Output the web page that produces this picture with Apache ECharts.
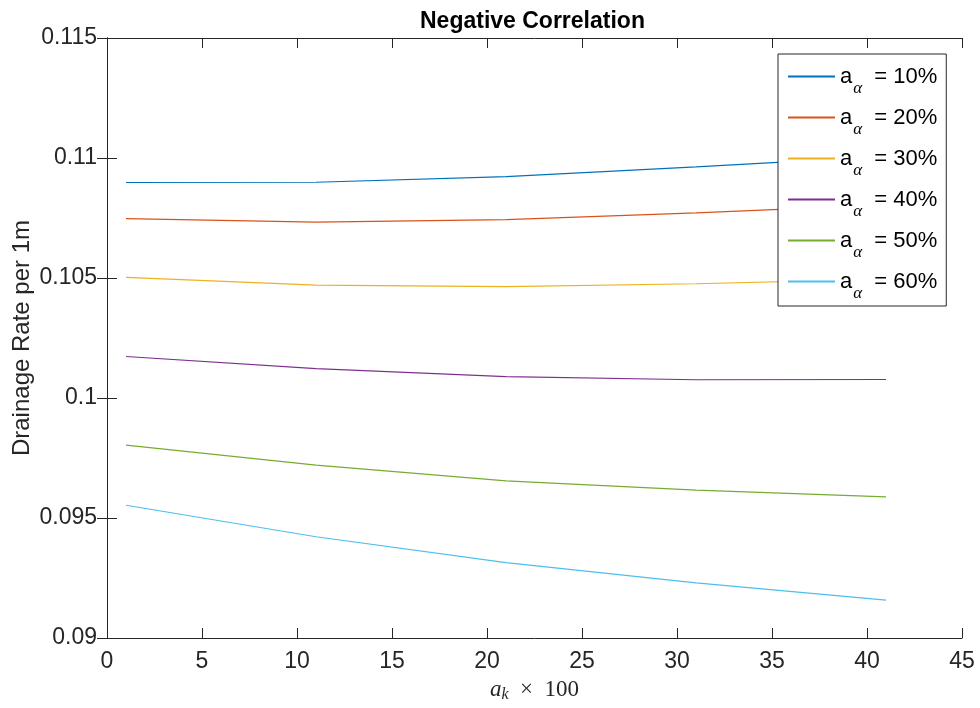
<!DOCTYPE html>
<html>
<head>
<meta charset="utf-8">
<script src="https://cdn.jsdelivr.net/npm/echarts@6/dist/echarts.min.js"></script>
<style>
  html, body { margin: 0; padding: 0; background: #fff; }
  #main { width: 980px; height: 708px; }
</style>
</head>
<body>
<div id="main"></div>
<script>
// x positions (a_k x 100)
var xValues = [1, 11, 21, 31, 41];
// drainage rate for each a_alpha
var rate10 = [0.10898, 0.10899, 0.10922, 0.10963, 0.11007];
var rate20 = [0.10747, 0.10733, 0.10743, 0.10771, 0.10805];
var rate30 = [0.10503, 0.10470, 0.10464, 0.10476, 0.10495];
var rate40 = [0.10173, 0.10122, 0.10089, 0.10076, 0.10077];
var rate50 = [0.09804, 0.09720, 0.09655, 0.09616, 0.09588];
var rate60 = [0.09553, 0.09422, 0.09314, 0.09230, 0.09158];
var seriesNames = ["aα = 10%", "aα = 20%", "aα = 30%", "aα = 40%", "aα = 50%", "aα = 60%"];
var colors = ["#0072BD", "#D95319", "#EDB120", "#7E2F8E", "#77AC30", "#4DBEEE"];

var allRates = [rate10, rate20, rate30, rate40, rate50, rate60];
var axisColor = "#262626";
var sans = "Liberation Sans, Arial, sans-serif";
var serif = "Liberation Serif, serif";

function pairs(ys) {
  return xValues.map(function (x, i) { return [x, ys[i]]; });
}

var series = allRates.map(function (ys, i) {
  return {
    name: seriesNames[i],
    type: "line",
    data: pairs(ys),
    symbol: "none",
    lineStyle: { width: 1.2, color: colors[i] },
    itemStyle: { color: colors[i] },
    xAxisIndex: 0,
    yAxisIndex: 0
  };
});

// the frame: ticks inside on all four sides
function frameAxis(extra) {
  var base = {
    type: "value",
    axisLine: { show: true, lineStyle: { color: axisColor, width: 1 } },
    axisTick: { show: true, inside: true, length: 10, lineStyle: { color: axisColor } },
    splitLine: { show: false }
  };
  return Object.assign(base, extra);
}

var myChart = echarts.init(document.getElementById("main"));

var option = {
  backgroundColor: "#fff",
  animation: false,
  color: colors,
  title: {
    text: "Negative Correlation",
    left: 420,
    top: 10,
    padding: 0,
    textStyle: { fontFamily: sans, fontWeight: "bold", fontSize: 23, color: "#000" }
  },
  legend: {
    data: seriesNames,
    orient: "vertical",
    left: 778,
    top: 54,
    padding: [2, 9, 4, 10],
    itemGap: 0,
    itemWidth: 47,
    itemHeight: 2,
    icon: "rect",
    selectedMode: false,
    backgroundColor: "#fff",
    borderColor: axisColor,
    borderWidth: 1,
    borderRadius: 0,
    formatter: function (name) {
      return "{a|a}{s|α}{b| = " + name.split("= ")[1] + "}";
    },
    textStyle: {
      rich: {
        a: { fontFamily: sans, fontSize: 22, lineHeight: 22, color: "#000" },
        s: { fontFamily: serif, fontStyle: "italic", fontSize: 17, lineHeight: 14, padding: [24, 1, 0, 1], color: "#000" },
        b: { fontFamily: sans, fontSize: 22, lineHeight: 22, color: "#000", padding: [0, 0, 0, 5] }
      }
    }
  },
  grid: {
    left: 107,
    right: 18,
    top: 38,
    bottom: 70,
    containLabel: false,
    outerBoundsMode: "none"
  },
  xAxis: [
    frameAxis({
      min: 0,
      max: 45,
      interval: 5,
      name: "{i|a}{k|k}{n|  ×  100}",
      nameLocation: "middle",
      nameGap: 41,
      nameMoveOverlap: false,
      nameTextStyle: {
        rich: {
          i: { fontFamily: serif, fontStyle: "italic", fontSize: 23, lineHeight: 22, color: axisColor },
          k: { fontFamily: serif, fontStyle: "italic", fontSize: 16, lineHeight: 15, padding: [10, 0, 0, 0], color: axisColor },
          n: { fontFamily: serif, fontSize: 23, lineHeight: 22, color: axisColor }
        }
      },
      axisLabel: { show: true, margin: 12, fontFamily: sans, fontSize: 23, color: axisColor }
    }),
    frameAxis({
      position: "top",
      min: 0,
      max: 45,
      interval: 5,
      axisLabel: { show: false }
    })
  ],
  yAxis: [
    frameAxis({
      min: 0.09,
      max: 0.115,
      interval: 0.005,
      name: "Drainage Rate per 1m",
      nameLocation: "middle",
      nameGap: 73,
      nameMoveOverlap: false,
      nameTextStyle: { fontFamily: sans, fontSize: 24, color: axisColor },
      axisLabel: { show: true, margin: 10, fontFamily: sans, fontSize: 23, color: axisColor }
    }),
    frameAxis({
      position: "right",
      min: 0.09,
      max: 0.115,
      interval: 0.005,
      axisLabel: { show: false }
    })
  ],
  series: series
};

myChart.setOption(option);
</script>
</body>
</html>
